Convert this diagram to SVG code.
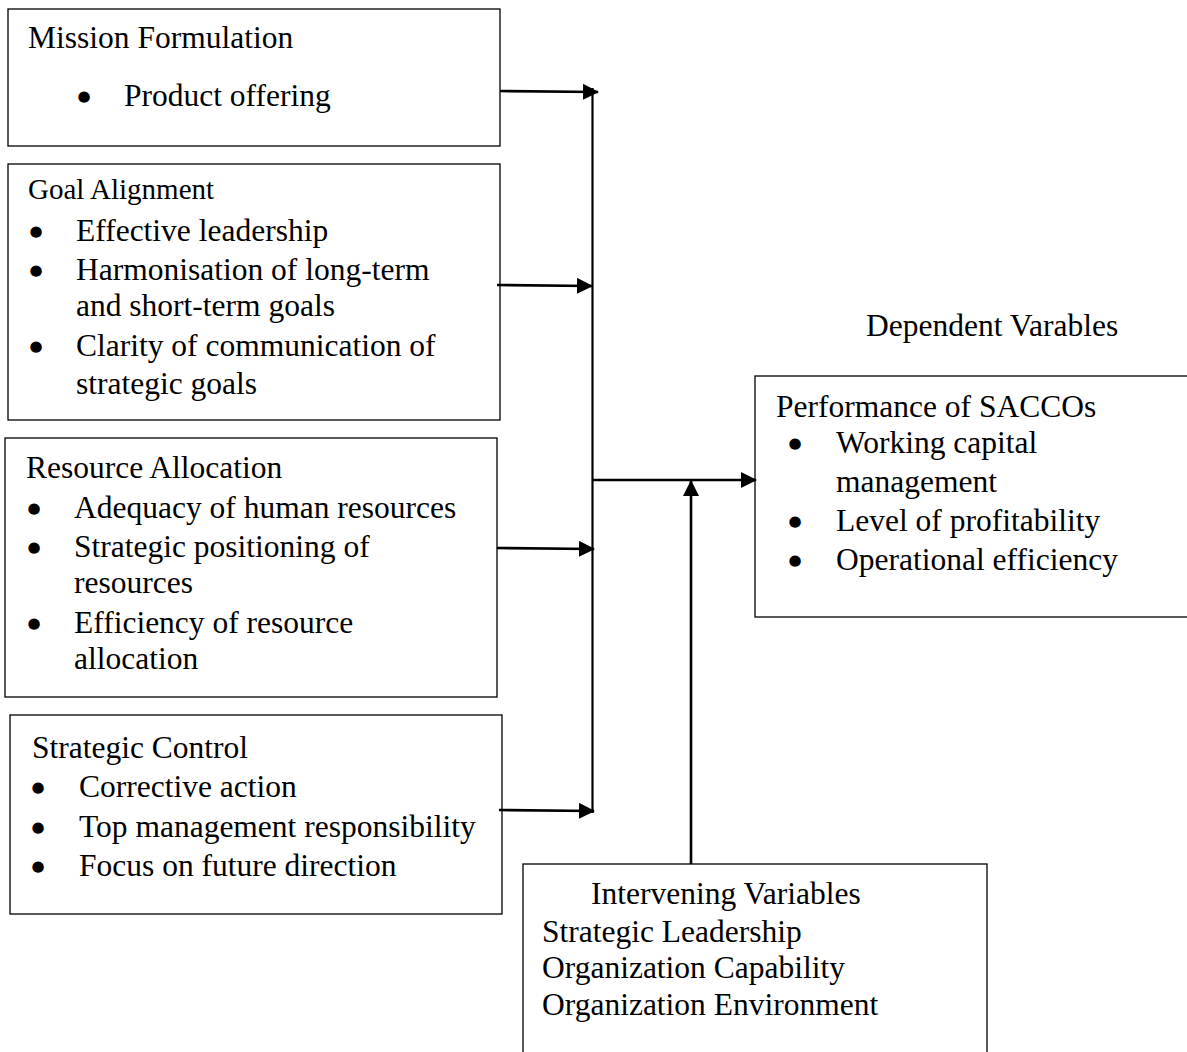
<svg xmlns="http://www.w3.org/2000/svg" width="1187" height="1052" viewBox="0 0 1187 1052">
<style>
rect.box{fill:#fff;stroke:#000;stroke-width:1.3}
text{font-family:"Liberation Serif","Times New Roman",serif;font-size:31.5px;fill:#000}
.sm{font-size:29px}
text.b{font-family:"DejaVu Sans",sans-serif;font-size:15px;text-anchor:middle}
.c line{stroke:#000;stroke-width:2.6}
.c line.v{stroke-width:2.2}
</style>
<defs>
<marker id="ah2" markerWidth="16" markerHeight="16" refX="15" refY="8" orient="auto" markerUnits="userSpaceOnUse" viewBox="0 0 16 16">
<path d="M0,0 L16,8 L0,16 z" fill="#000"/>
</marker>
</defs>
<rect width="1187" height="1052" fill="#fff"/>

<g id="mission">
<rect class="box" x="8" y="9" width="492" height="137"/>
<text x="28" y="48">Mission Formulation</text>
<text class="b" x="84" y="101">●</text><text x="124" y="106">Product offering</text>
</g>

<g id="goal">
<rect class="box" x="8" y="164" width="492" height="256"/>
<text class="sm" x="28" y="199">Goal Alignment</text>
<text class="b" x="36" y="236">●</text><text x="76" y="241">Effective leadership</text>
<text class="b" x="36" y="275">●</text><text x="76" y="280">Harmonisation of long-term</text>
<text x="76" y="316">and short-term goals</text>
<text class="b" x="36" y="351">●</text><text x="76" y="356">Clarity of communication of</text>
<text x="76" y="394">strategic goals</text>
</g>

<g id="resource">
<rect class="box" x="5" y="438" width="492" height="259"/>
<text x="26" y="478">Resource Allocation</text>
<text class="b" x="34" y="513">●</text><text x="74" y="518">Adequacy of human resources</text>
<text class="b" x="34" y="552">●</text><text x="74" y="557">Strategic positioning of</text>
<text x="74" y="593">resources</text>
<text class="b" x="34" y="628">●</text><text x="74" y="633">Efficiency of resource</text>
<text x="74" y="669">allocation</text>
</g>

<g id="control">
<rect class="box" x="10" y="715" width="492" height="199"/>
<text x="32" y="758">Strategic Control</text>
<text class="b" x="38" y="792">●</text><text x="79" y="797">Corrective action</text>
<text class="b" x="38" y="832">●</text><text x="79" y="837">Top management responsibility</text>
<text class="b" x="38" y="871">●</text><text x="79" y="876">Focus on future direction</text>
</g>

<g id="dependent-label">
<text x="866" y="336">Dependent Varables</text>
</g>

<g id="performance">
<rect class="box" x="755" y="376" width="440" height="241"/>
<text x="776" y="417">Performance of SACCOs</text>
<text class="b" x="795" y="448">●</text><text x="836" y="453">Working capital</text>
<text x="836" y="492">management</text>
<text class="b" x="795" y="526">●</text><text x="836" y="531">Level of profitability</text>
<text class="b" x="795" y="565">●</text><text x="836" y="570">Operational efficiency</text>
</g>

<g id="intervening">
<rect class="box" x="523" y="864" width="464" height="200"/>
<text x="591" y="904">Intervening Variables</text>
<text x="542" y="942">Strategic Leadership</text>
<text x="542" y="978">Organization Capability</text>
<text x="542" y="1015">Organization Environment</text>
</g>

<g id="connectors" class="c">
<line class="v" x1="592.5" y1="88" x2="592.5" y2="813"/>
<line x1="500" y1="91" x2="598" y2="92" marker-end="url(#ah2)"/>
<line x1="497" y1="285" x2="592" y2="286" marker-end="url(#ah2)"/>
<line x1="497" y1="548" x2="594" y2="549" marker-end="url(#ah2)"/>
<line x1="499" y1="810" x2="594" y2="811" marker-end="url(#ah2)"/>
<line x1="592" y1="480" x2="756" y2="480" marker-end="url(#ah2)"/>
<line x1="691" y1="864" x2="691" y2="481" marker-end="url(#ah2)"/>
</g>
</svg>
